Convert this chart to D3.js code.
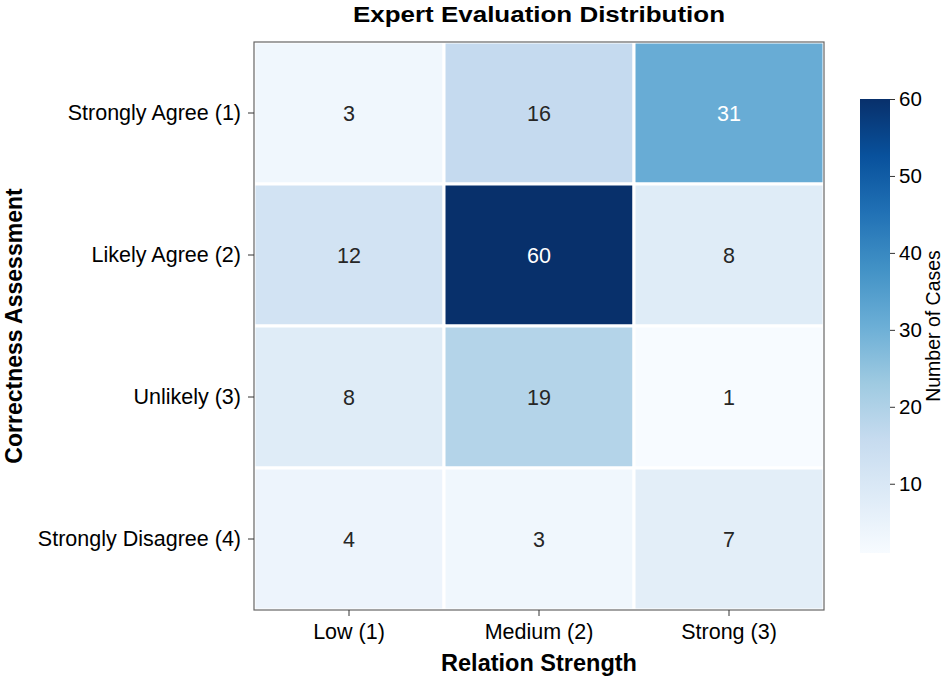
<!DOCTYPE html>
<html><head><meta charset="utf-8">
<script src="https://cdn.jsdelivr.net/npm/d3@7"></script>
<style>body{margin:0;background:#fff}svg{font-family:"Liberation Sans",Arial,sans-serif}</style>
</head><body><svg id="c" width="945" height="678"></svg>
<script>
const columns = ["Low (1)", "Medium (2)", "Strong (3)"];
const rows = ["Strongly Agree (1)", "Likely Agree (2)", "Unlikely (3)", "Strongly Disagree (4)"];
const values = [
  [3, 16, 31],
  [12, 60, 8],
  [8, 19, 1],
  [4, 3, 7]
];
const cbTicks = [10, 20, 30, 40, 50, 60];
const vmin = 1, vmax = 60;

const svg = d3.select("#c");
const L = 254, R = 824, T = 42, B = 610;
const FS = 21.5;
const x = d3.scaleBand().domain(columns).range([L, R]);
const y = d3.scaleBand().domain(rows).range([T, B]);
const blues = ["#f7fbff","#deebf7","#c6dbef","#9ecae1","#6baed6","#4292c6","#2171b5","#08519c","#08306b"];
const color = d3.scaleLinear().domain(d3.range(9).map(i => vmin + (vmax - vmin) * i / 8)).range(blues).clamp(true);

const cells = [];
rows.forEach((r, i) => columns.forEach((c, j) => cells.push({r, c, v: values[i][j]})));

svg.append("g").selectAll("rect").data(cells).join("rect")
  .attr("x", d => x(d.c)).attr("y", d => y(d.r))
  .attr("width", x.bandwidth()).attr("height", y.bandwidth())
  .attr("fill", d => color(d.v)).attr("stroke", "#fff").attr("stroke-width", 3);

svg.append("g").selectAll("text").data(cells).join("text")
  .attr("x", d => x(d.c) + x.bandwidth() / 2).attr("y", d => y(d.r) + y.bandwidth() / 2)
  .attr("dy", "0.36em").attr("text-anchor", "middle").attr("font-size", FS)
  .attr("fill", d => (d.v > 28 ? "#fff" : "#262626")).text(d => d.v);

// spines
svg.append("rect").attr("x", L).attr("y", T).attr("width", R - L).attr("height", B - T)
  .attr("fill", "none").attr("stroke", "#666").attr("stroke-width", 1.2);

const xa = svg.append("g").attr("transform", `translate(0,${B})`)
  .call(d3.axisBottom(x).tickSize(6).tickPadding(8));
xa.select(".domain").remove();
xa.selectAll("text").attr("font-size", FS).attr("fill", "#000").attr("font-family", "Liberation Sans, Arial, sans-serif");
xa.selectAll("line").attr("stroke", "#333");

const ya = svg.append("g").attr("transform", `translate(${L},0)`)
  .call(d3.axisLeft(y).tickSize(6).tickPadding(7));
ya.select(".domain").remove();
ya.selectAll("text").attr("font-size", FS).attr("fill", "#000").attr("font-family", "Liberation Sans, Arial, sans-serif");
ya.selectAll("line").attr("stroke", "#333");

svg.append("text").attr("x", (L + R) / 2).attr("y", 22).attr("text-anchor", "middle")
  .attr("font-size", 22).attr("font-weight", "bold").attr("textLength", 372).attr("lengthAdjust", "spacingAndGlyphs")
  .text("Expert Evaluation Distribution");
svg.append("text").attr("x", (L + R) / 2).attr("y", 671).attr("text-anchor", "middle")
  .attr("font-size", 23.5).attr("font-weight", "bold").text("Relation Strength");
svg.append("text").attr("transform", `translate(22,${(T + B) / 2}) rotate(-90)`).attr("text-anchor", "middle")
  .attr("font-size", 23).attr("font-weight", "bold").text("Correctness Assessment");

// colorbar
const cbX = 860, cbW = 30, cbT = 99, cbB = 553;
const cy = d3.scaleLinear().domain([vmin, vmax]).range([cbB, cbT]);
const defs = svg.append("defs");
const grad = defs.append("linearGradient").attr("id", "g").attr("x1", 0).attr("y1", 1).attr("x2", 0).attr("y2", 0);
blues.forEach((b, i) => grad.append("stop").attr("offset", i / 8).attr("stop-color", b));
svg.append("rect").attr("x", cbX).attr("y", cbT).attr("width", cbW).attr("height", cbB - cbT).attr("fill", "url(#g)");
const ca = svg.append("g").attr("transform", `translate(${cbX + cbW},0)`)
  .call(d3.axisRight(cy).tickValues(cbTicks).tickSize(5).tickPadding(4));
ca.select(".domain").remove();
ca.selectAll("text").attr("font-size", 20.5).attr("fill", "#000").attr("font-family", "Liberation Sans, Arial, sans-serif");
ca.selectAll("line").attr("stroke", "#333");
svg.append("text").attr("transform", `translate(940,${(cbT + cbB) / 2}) rotate(-90)`).attr("text-anchor", "middle")
  .attr("font-size", 19.5).text("Number of Cases");
</script></body></html>
